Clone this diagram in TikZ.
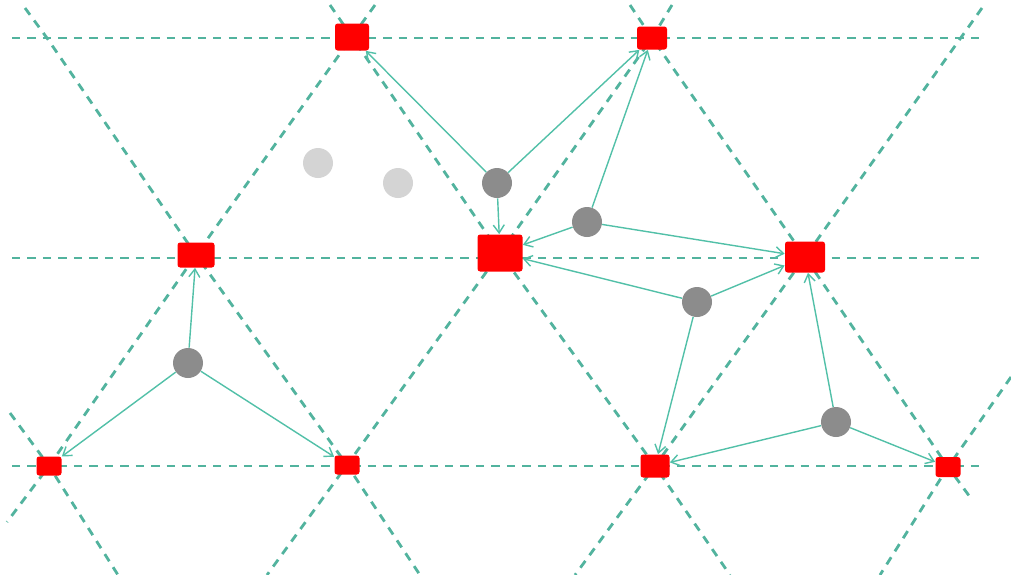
\documentclass[tikz,border=0pt]{standalone}
\usepackage{tikz}
\usetikzlibrary{arrows.meta}
\definecolor{Grid}{HTML}{52B39E}
\definecolor{Link}{HTML}{52C0A8}
\definecolor{Site}{HTML}{FF0000}
\definecolor{Part}{HTML}{8C8C8C}
\definecolor{Ghost}{HTML}{D4D4D4}
\tikzset{
  lattice/.style={draw=Grid,line width=1.6pt,dash pattern=on 4.8pt off 4pt},
  site/.style 2 args={rectangle,fill=Site,rounded corners=1.5pt,minimum width=#1*0.2mm,minimum height=#2*0.2mm,inner sep=0pt},
  particle/.style={circle,fill=Part,minimum size=6mm,inner sep=0pt},
  ghost/.style={particle,fill=Ghost},
  msg/.style={-{Straight Barb[length=1.6mm,width=2.2mm]},draw=Link,line width=0.8pt}
}
\begin{document}
\begin{tikzpicture}[x=0.2mm,y=-0.2mm]
  \useasboundingbox (0,0) rectangle (1011,575);
  \foreach \y in {38,258,466}
    \draw[lattice] (12,\y) -- (982,\y);
  \draw[lattice] (25,8) -- (47,38) -- (196,255) -- (347,465) -- (420,575);
  \draw[lattice] (330,5) -- (352,37) -- (500,253) -- (655,466) -- (730,575);
  \draw[lattice] (630,5) -- (652,38) -- (805,257) -- (948,467) -- (970,497);
  \draw[lattice] (10,413) -- (49,466) -- (118,575);
  \draw[lattice] (375,5) -- (352,37) -- (196,255) -- (49,466) -- (7,522);
  \draw[lattice] (672,5) -- (652,38) -- (500,253) -- (347,465) -- (267,575);
  \draw[lattice] (982,8) -- (805,257) -- (655,466) -- (575,575);
  \draw[lattice] (1011,377) -- (948,467) -- (880,575);

  \node[site={34}{27}] (sA) at (352,37) {};
  \node[site={30}{23}] (sB) at (652,38) {};
  \node[site={37}{25}] (sC) at (196,255) {};
  \node[site={45}{37}] (sD) at (500,253) {};
  \node[site={40}{31}] (sE) at (805,257) {};
  \node[site={25}{19}] (sF) at (49,466) {};
  \node[site={25}{19}] (sG) at (347,465) {};
  \node[site={29}{23}] (sH) at (655,466) {};
  \node[site={25}{20}] (sI) at (948,467) {};

  \node[ghost] (g1) at (318,163) {};
  \node[ghost] (g2) at (398,183) {};
  \node[particle] (p1) at (188,363) {};
  \node[particle] (p2) at (497,183) {};
  \node[particle] (p3) at (587,222) {};
  \node[particle] (p4) at (697,302) {};
  \node[particle] (p5) at (836,422) {};

  \draw[msg] (p1) -- (sC);
  \draw[msg] (p1) -- (sF);
  \draw[msg] (p1) -- (sG);
  \draw[msg] (p2) -- (sA);
  \draw[msg] (p2) -- (sB);
  \draw[msg] (p2) -- (sD);
  \draw[msg] (p3) -- (sB);
  \draw[msg] (p3) -- (sD);
  \draw[msg] (p3) -- (sE);
  \draw[msg] (p4) -- (sD);
  \draw[msg] (p4) -- (sE);
  \draw[msg] (p4) -- (sH);
  \draw[msg] (p5) -- (sE);
  \draw[msg] (p5) -- (sH);
  \draw[msg] (p5) -- (sI);
\end{tikzpicture}
\end{document}
